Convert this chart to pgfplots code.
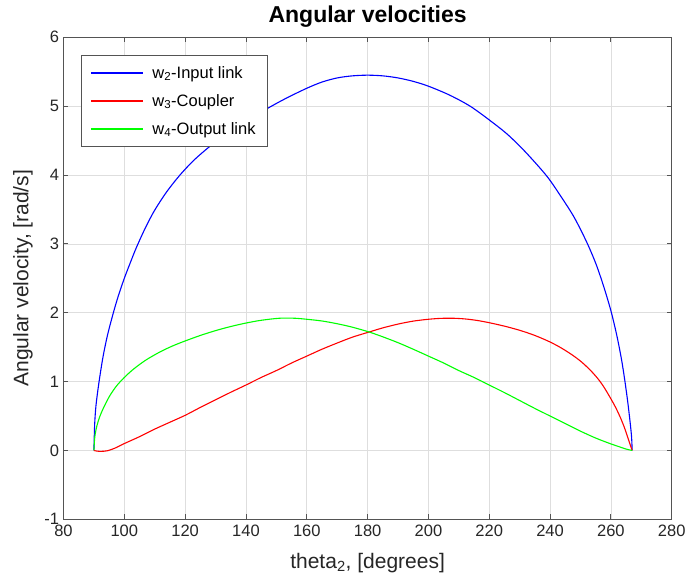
\documentclass[border=0pt]{standalone}
\usepackage{fontspec}
\setmainfont{Liberation Sans}
\usepackage{pgfplots}
\pgfplotsset{compat=1.18}
\definecolor{axgray}{gray}{0.33}
\begin{document}
\begin{tikzpicture}[x=1pt,y=1pt]
\useasboundingbox (-63.5,-61.7) rectangle (625.5,519.3);
\begin{axis}[
  at={(0,0)}, anchor=south west,
  scale only axis, width=608.2pt, height=482pt,
  xmin=80, xmax=280, ymin=-1, ymax=6,
  xtick={80,100,...,280}, ytick={-1,0,...,6},
  grid=major, major grid style={black!13, line width=0.7pt},
  axis line style={axgray, line width=0.9pt},
  tick style={axgray, line width=0.9pt},
  major tick length=5pt,
  /pgf/number format/assume math mode=true,
  tick label style={font=\fontsize{16.5}{19}\selectfont, text=black!85},
  xticklabel style={yshift=-2pt},
  yticklabel style={xshift=-1pt},
  title={Angular velocities},
  title style={font=\fontsize{23}{26}\selectfont\bfseries, at={(axis description cs:0.5,1.0175)}, anchor=base, yshift=0pt},
  xlabel={theta\textsubscript{2}, [degrees]},
  ylabel={Angular velocity, [rad/s]},
  xlabel style={font=\fontsize{21}{24}\selectfont, text=black!85, at={(axis description cs:0.5,-0.0905)}, anchor=center},
  ylabel style={font=\fontsize{21}{24}\selectfont, text=black!85, at={(axis description cs:-0.0665,0.5)}, anchor=center},
  legend style={at={(axis description cs:0.0283,0.9633)}, anchor=north west,
    draw=axgray, line width=0.9pt, fill=white, font=\fontsize{16.5}{19}\selectfont,
    inner xsep=9.5pt, inner ysep=9pt, row sep=10.5pt, column sep=7pt, cells={anchor=west}},
  legend image post style={xscale=3, line width=1.5pt},
]
\addplot[blue, line width=1.1pt, smooth] coordinates {
(90,0) (90.25,0.38) (90.7,0.66) (91.7,1.0) (93,1.36) (94.5,1.68) (96.4,2.0)
(98,2.24) (100,2.5) (102,2.73) (104,2.95) (107,3.24) (110,3.49) (114,3.76)
(118.3,4.0) (123,4.22) (128.8,4.44) (135,4.64) (140,4.78) (146.8,4.96)
(153,5.11) (160,5.26) (165,5.35) (170,5.41) (175,5.44) (180,5.45)
(185,5.44) (190,5.41) (195,5.36) (200,5.29) (207,5.16) (213.7,5.0)
(220,4.80) (226,4.59) (232,4.33) (239,3.98) (244,3.66) (248,3.38)
(252,3.03) (255,2.72) (257.5,2.40) (260,2.03) (262,1.66) (263.5,1.32)
(264.5,1.04) (265.5,0.72) (266.3,0.42) (266.8,0.2) (267,0)
};
\addlegendentry{w\textsubscript{2}-Input link}
\addplot[red, line width=1.1pt, smooth] coordinates {
(90,0) (91,-0.010) (92.5,-0.013) (94.5,-0.004) (97,0.035) (100,0.10)
(105,0.20) (110,0.31) (115,0.41) (120,0.51) (125,0.625) (130,0.735)
(135,0.845) (140,0.95) (145,1.06) (150,1.16) (155,1.27) (160,1.37)
(165,1.47) (170,1.56) (175,1.645) (180.5,1.72) (185,1.78) (190,1.835)
(195,1.878) (200,1.905) (204,1.918) (208,1.92) (212,1.91) (216,1.888)
(220,1.855) (225,1.805) (230,1.745) (235,1.67) (240,1.575) (244,1.48)
(248,1.365) (251,1.26) (254,1.13) (256.3,1.01) (258,0.90) (260,0.75)
(261.5,0.63) (263,0.49) (264.3,0.35) (265.4,0.21) (266.3,0.09) (267,0)
};
\addlegendentry{w\textsubscript{3}-Coupler}
\addplot[green, line width=1.1pt, smooth] coordinates {
(90,0) (90.3,0.2) (91,0.36) (92,0.5) (93.5,0.65) (95.3,0.8) (97.5,0.94)
(100,1.06) (103,1.18) (107,1.31) (111.7,1.43) (116,1.52) (120,1.59)
(125,1.67) (130,1.74) (135,1.80) (140,1.85) (145,1.89) (151,1.92)
(156,1.92) (160,1.905) (165,1.88) (170,1.84) (175,1.79) (180.5,1.72)
(185,1.65) (190,1.565) (195,1.47) (200,1.37) (205,1.27) (210,1.16)
(215,1.06) (220,0.95) (225,0.84) (230,0.725) (235,0.61) (240,0.50)
(245,0.39) (250,0.28) (255,0.18) (260,0.095) (263,0.05) (265,0.02) (267,0)
};
\addlegendentry{w\textsubscript{4}-Output link}
\end{axis}
\end{tikzpicture}
\end{document}
